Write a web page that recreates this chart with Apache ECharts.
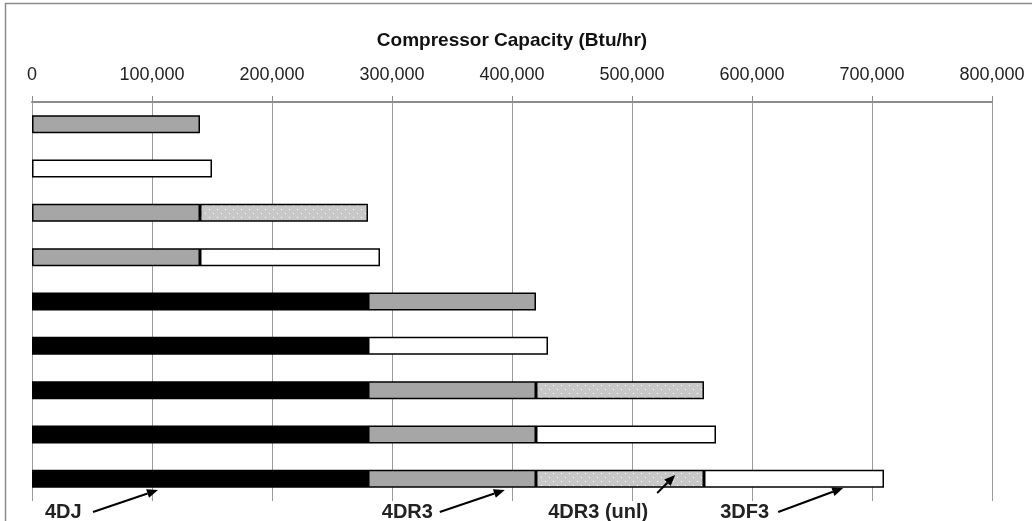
<!DOCTYPE html>
<html>
<head>
<meta charset="utf-8">
<style>
  html, body { margin: 0; padding: 0; background: #fff; }
  #chart { width: 1032px; height: 521px; }
</style>
<script src="https://cdn.jsdelivr.net/npm/echarts@6/dist/echarts.min.js"></script>
</head>
<body>
<div id="chart"></div>
<script>
// Compressor line-ups, top to bottom
const categories = ['1', '2', '3', '4', '5', '6', '7', '8', '9'];

// Capacity contributed by each compressor type (Btu/hr); null = not present
const cap4DJ    = [null, null, null, null, 280000, 280000, 280000, 280000, 280000];
const cap4DR3   = [140000, null, 140000, 140000, 140000, null, 140000, 140000, 140000];
const cap4DR3unl = [null, null, 140000, null, null, null, 140000, null, 140000];
const cap3DF3   = [null, 150000, null, 150000, null, 150000, null, 150000, 150000];

// Axis ticks
const axisMin = 0, axisMax = 800000, axisStep = 100000;

// Callout labels and the capacity value each arrow points to
const calloutNames = ['4DJ', '4DR3', '4DR3 (unl)', '3DF3'];
const calloutTips  = [105000, 394000, 536000, 676000];

function dottedFill() {
  const c = document.createElement('canvas');
  c.width = 8; c.height = 8;
  const g = c.getContext('2d');
  g.fillStyle = '#c8c8c8';
  g.fillRect(0, 0, 8, 8);
  g.fillStyle = '#ffffff';
  g.fillRect(1, 1, 1, 1);
  g.fillRect(5, 5, 1, 1);
  return { image: c, repeat: 'repeat' };
}

const chart = echarts.init(document.getElementById('chart'), null, { renderer: 'canvas' });

const font = '"Liberation Sans", Arial, sans-serif';
const segStyle = (fill) => ({ color: fill, borderColor: '#000', borderWidth: 1.5 });
const seg = (name, data, fill) => ({
  name, type: 'bar', stack: 'total', data, barWidth: 18,
  itemStyle: segStyle(fill), emphasis: { disabled: true }, silent: true
});

chart.setOption({
  animation: false,
  backgroundColor: '#fff',
  grid: { left: 32, right: 40, top: 102, bottom: 20 },
  xAxis: {
    type: 'value', position: 'top',
    min: axisMin, max: axisMax, interval: axisStep,
    name: 'Compressor Capacity (Btu/hr)',
    nameLocation: 'middle', nameGap: 52,
    nameTextStyle: { fontFamily: font, fontWeight: 'bold', fontSize: 19, color: '#111' },
    axisLine: { show: true, lineStyle: { color: '#8c8c8c', width: 2 } },
    axisTick: { show: true, length: 6, lineStyle: { color: '#8c8c8c', width: 1 } },
    axisLabel: {
      fontFamily: font, fontSize: 18, color: '#222', margin: 18,
      formatter: (v) => v.toLocaleString('en-US')
    },
    splitLine: { show: true, lineStyle: { color: '#9a9a9a', width: 1 } }
  },
  yAxis: {
    type: 'category', data: categories, inverse: true,
    axisLine: { show: false }, axisTick: { show: false }, axisLabel: { show: false },
    splitLine: { show: false }
  },
  series: [
    seg('4DJ', cap4DJ, '#000000'),
    seg('4DR3', cap4DR3, '#a6a6a6'),
    seg('4DR3 (unl)', cap4DR3unl, dottedFill()),
    seg('3DF3', cap3DF3, '#ffffff')
  ]
});

// Callout text and arrows under the bottom bar
const layout = [
  { text: -113, tail: [-65, 512], tipY: 490 },
  { text: -123, tail: [-65, 512], tipY: 490 },
  { text: -127, tail: [-18, 493], tipY: 475 },
  { text: -123, tail: [-65, 512], tipY: 488 }
];

function arrow(x1, y1, x2, y2) {
  const ang = Math.atan2(y2 - y1, x2 - x1);
  const L = 11, W = 4.5;
  const bx = x2 - L * Math.cos(ang), by = y2 - L * Math.sin(ang);
  const px = -Math.sin(ang) * W, py = Math.cos(ang) * W;
  return [
    { type: 'line', shape: { x1, y1, x2: bx, y2: by }, style: { stroke: '#000', lineWidth: 2 }, z: 100, silent: true },
    { type: 'polygon', shape: { points: [[x2, y2], [bx + px, by + py], [bx - px, by - py]] }, style: { fill: '#000' }, z: 100, silent: true }
  ];
}

const elements = [
  { type: 'rect', shape: { x: 5.5, y: 3.5, width: 1200, height: 700 },
    style: { fill: 'none', stroke: '#8c8c8c', lineWidth: 1.5 }, z: -1, silent: true }
];
calloutNames.forEach((name, i) => {
  const tipX = chart.convertToPixel({ xAxisIndex: 0 }, calloutTips[i]);
  const l = layout[i];
  elements.push({
    type: 'text', x: tipX + l.text, y: 502, z: 100,
    style: { text: name, fontFamily: font, fontWeight: 'bold', fontSize: 20, fill: '#222', align: 'left', verticalAlign: 'top' },
    silent: true
  });
  elements.push(...arrow(tipX + l.tail[0], l.tail[1], tipX, l.tipY));
});
chart.setOption({ graphic: { elements } });
</script>
</body>
</html>
